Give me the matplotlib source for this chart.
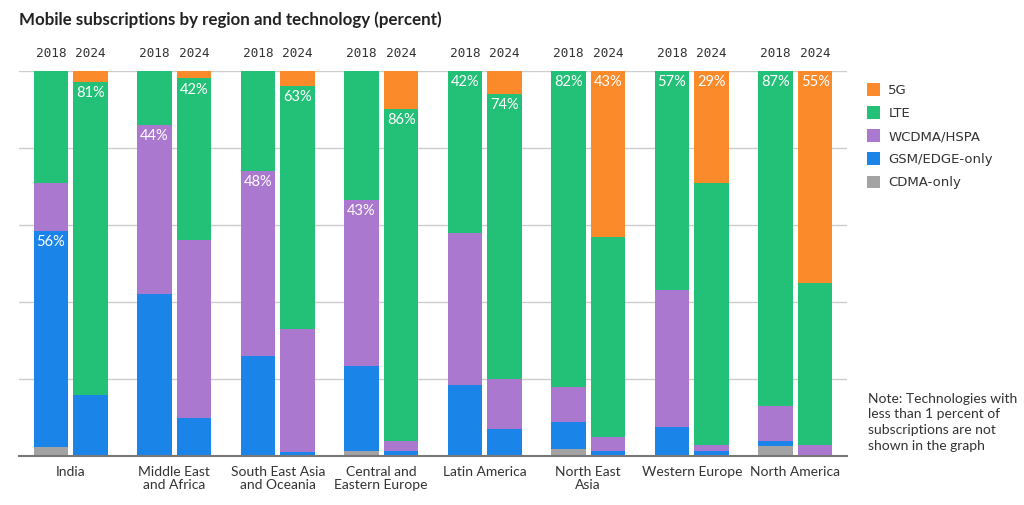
import matplotlib
matplotlib.use("Agg")
import matplotlib.pyplot as plt
import numpy as np

regions = ["India", "Middle East\nand Africa", "South East Asia\nand Oceania",
           "Central and\nEastern Europe", "Latin America", "North East\nAsia",
           "Western Europe", "North America"]
years = ["2018", "2024"]
techs = ["CDMA-only", "GSM/EDGE-only", "WCDMA/HSPA", "LTE", "5G"]
colors = ["#a3a3a3", "#1a84e8", "#ab78d0", "#23c077", "#fb8a2b"]

# share per region, bottom to top: CDMA, GSM, WCDMA, LTE, 5G
cdma_2018 = [2.5, 0, 0, 1.5, 0, 2, 0, 2.75]
gsm_2018 = [56, 42, 26, 22, 18.5, 7, 7.5, 1.25]
wcdma_2018 = [12.5, 44, 48, 43, 39.5, 9, 35.5, 9]
lte_2018 = [29, 14, 26, 33.5, 42, 82, 57, 87]
g5_2018 = [0, 0, 0, 0, 0, 0, 0, 0]

cdma_2024 = [0, 0, 0, 0, 0, 0, 0, 0]
gsm_2024 = [16, 10, 1, 1.5, 7, 1.5, 1.5, 0]
wcdma_2024 = [0, 46, 32, 2.5, 13, 3.5, 1.5, 3]
lte_2024 = [81, 42, 63, 86, 74, 52, 68, 42]
g5_2024 = [3, 2, 4, 10, 6, 43, 29, 55]

# which technology gets the value label (index into techs)
label_tech_2018 = [1, 2, 2, 2, 3, 3, 3, 3]
label_tech_2024 = [3, 3, 3, 3, 3, 4, 4, 4]

data = {
    "2018": [cdma_2018, gsm_2018, wcdma_2018, lte_2018, g5_2018],
    "2024": [cdma_2024, gsm_2024, wcdma_2024, lte_2024, g5_2024],
}
label_tech = {"2018": label_tech_2018, "2024": label_tech_2024}

fig = plt.figure(figsize=(10.24, 5.05), dpi=100)
ax = fig.add_axes([19/1024, 1 - 456.3/505, 828/1024, 385.6/505])

x = np.arange(len(regions))
offsets = {"2018": -0.193, "2024": 0.193}
width = 0.333

for yr in years:
    vals = np.array(data[yr])
    bottom = np.zeros(len(regions))
    for k, tech in enumerate(techs):
        ax.bar(x + offsets[yr], vals[k], width, bottom=bottom, color=colors[k],
               label=tech if yr == "2018" else None, zorder=3, linewidth=0)
        bottom += vals[k]
    tops = np.cumsum(vals, axis=0)
    for i in range(len(regions)):
        k = label_tech[yr][i]
        ax.text(x[i] + offsets[yr], tops[k, i] - 2.9, "%d%%" % round(vals[k, i]),
                ha="center", va="center", color="white", fontsize=10.5,
                family="Lato", zorder=4)
        ax.text(x[i] + offsets[yr], 104.5, yr, ha="center", va="center",
                fontsize=9.2, family="DejaVu Sans Mono", color="#333333")

ax.set_xlim(-0.5, 7.5)
ax.set_ylim(0, 100)
ax.set_yticks([0, 20, 40, 60, 80, 100])
ax.set_yticklabels([])
ax.yaxis.grid(True, color="#cccccc", linewidth=1, zorder=0)
ax.tick_params(length=0)
ax.set_xticks(x)
ax.set_xticklabels(regions, fontsize=10, family="Lato", color="#333333",
                   linespacing=1.1)
ax.tick_params(axis="x", pad=7)
for s in ["top", "left", "right"]:
    ax.spines[s].set_visible(False)
ax.spines["bottom"].set_color("#777777")
ax.spines["bottom"].set_linewidth(1.5)
ax.spines["bottom"].set_zorder(5)

fig.text(19/1024, 1 - 20/505, "Mobile subscriptions by region and technology (percent)",
         fontsize=12.2, fontweight="bold", family="Lato", color="#222222",
         ha="left", va="center")

handles, labels = ax.get_legend_handles_labels()
leg = fig.legend(handles[::-1], labels[::-1], loc="upper left",
                 bbox_to_anchor=(862/1024, 1 - 78/505), frameon=False,
                 fontsize=9.5, handlelength=1.0, handleheight=1.1,
                 handletextpad=0.6, labelspacing=0.7, borderaxespad=0)
for t in leg.get_texts():
    t.set_color("#333333")

fig.text(868/1024, 1 - 393/505,
         "Note: Technologies with\nless than 1 percent of\nsubscriptions are not\nshown in the graph",
         fontsize=10, family="Lato", color="#333333", ha="left", va="top",
         linespacing=1.35)

fig.savefig("out.png", dpi=100)
